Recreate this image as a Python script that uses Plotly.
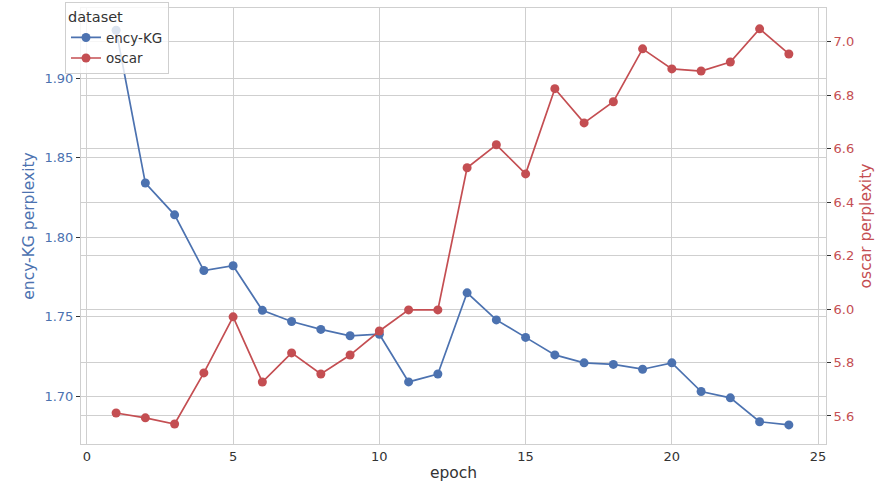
import plotly.graph_objects as go

epochs = list(range(1, 25))
ency_kg = [1.930, 1.834, 1.814, 1.779, 1.782, 1.754, 1.747, 1.742, 1.738, 1.739,
           1.709, 1.714, 1.765, 1.748, 1.737, 1.726, 1.721, 1.720, 1.717, 1.721,
           1.703, 1.699, 1.684, 1.682]
oscar = [5.611, 5.593, 5.570, 5.761, 5.971, 5.727, 5.836, 5.757, 5.828, 5.918,
         5.997, 5.997, 6.529, 6.615, 6.506, 6.825, 6.697, 6.776, 6.974, 6.899,
         6.891, 6.925, 7.049, 6.955]

BLUE = "#4C72B0"
RED = "#C44E52"
GRID = "#cfcfcf"
FONT = "DejaVu Sans"

fig = go.Figure()
fig.add_trace(go.Scatter(x=epochs, y=ency_kg, name="ency-KG", mode="lines+markers",
                         line=dict(color=BLUE, width=1.7), marker=dict(size=9, color=BLUE),
                         yaxis="y"))
fig.add_trace(go.Scatter(x=epochs, y=oscar, name="oscar", mode="lines+markers",
                         line=dict(color=RED, width=1.7), marker=dict(size=9, color=RED),
                         yaxis="y2"))

fig.update_layout(
    width=884, height=494,
    margin=dict(l=81, r=58, t=8, b=50, autoexpand=False),
    paper_bgcolor="white", plot_bgcolor="white",
    font=dict(family=FONT, size=13, color="#333333"),
    xaxis=dict(range=[-0.2, 25.27], dtick=5, tick0=0, showgrid=True, gridcolor=GRID,
               showline=True, linecolor=GRID, mirror=True, zeroline=False,
               ticks="", title=dict(text="epoch", font=dict(size=15.5), standoff=4),
               tickfont=dict(size=13, color="#333333")),
    yaxis=dict(range=[1.670, 1.944], dtick=0.05, tick0=1.70, tickformat=".2f",
               showgrid=True, gridcolor=GRID, zeroline=False,
               showline=True, linecolor=GRID,
               ticks="outside", ticklen=4, tickcolor="#333333",
               tickfont=dict(size=13, color=BLUE),
               title=dict(text="ency-KG perplexity", font=dict(size=15.5, color=BLUE), standoff=6)),
    yaxis2=dict(range=[5.495, 7.127], dtick=0.2, tick0=5.6, tickformat=".1f",
                overlaying="y", side="right", showgrid=True, gridcolor=GRID,
                zeroline=False, showline=True, linecolor=GRID,
                ticks="outside", ticklen=4, tickcolor="#333333",
                tickfont=dict(size=13, color=RED),
                title=dict(text="oscar perplexity", font=dict(size=15.5, color=RED), standoff=6)),
    legend=dict(x=-0.0215, y=1.013, xanchor="left", yanchor="top",
                bgcolor="rgba(255,255,255,0.8)", bordercolor=GRID, borderwidth=1,
                title=dict(text="dataset", font=dict(size=14.5, color="#333333")),
                font=dict(size=13.5, color="#333333"), tracegroupgap=0),
    showlegend=True,
)

fig.write_html("out.html", config={"displayModeBar": False},
               post_script="document.body.style.margin='0px';")
